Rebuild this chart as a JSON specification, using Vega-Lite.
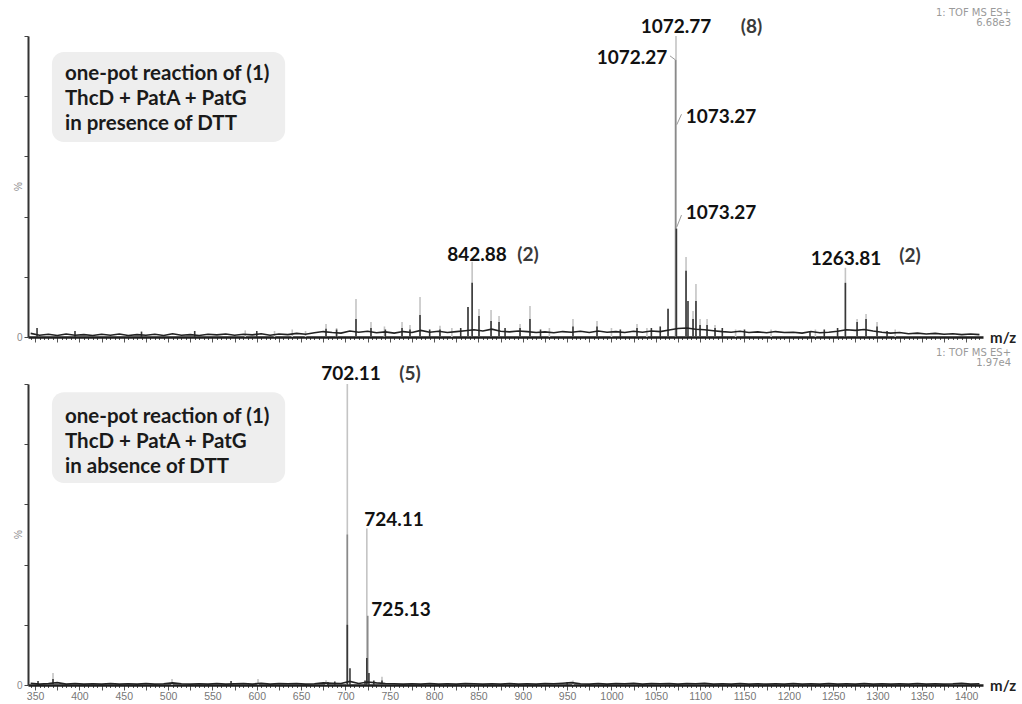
{
  "$schema": "https://vega.github.io/schema/vega-lite/v6.json",
  "background": "white",
  "padding": {"left": 14, "top": 8, "right": 0, "bottom": 0},
  "bounds": "flush",
  "spacing": 47,
  "config": {"view": {"stroke": null}, "font": "Lato"},
  "datasets": {
    "topPeaks": [
      {"mz": 587, "i": 2.2, "tr": "light"}, {"mz": 620, "i": 2, "tr": "light"}, {"mz": 640, "i": 2.5, "tr": "light"}, {"mz": 655, "i": 2, "tr": "light"},
      {"mz": 678.1, "i": 4.3, "tr": "light"}, {"mz": 690, "i": 3, "tr": "light"}, {"mz": 711.9, "i": 12.6, "tr": "light"}, {"mz": 728.8, "i": 5, "tr": "light"},
      {"mz": 744, "i": 3.5, "tr": "light"}, {"mz": 763.8, "i": 5, "tr": "light"}, {"mz": 772.8, "i": 4, "tr": "light"}, {"mz": 784.1, "i": 13.3, "tr": "light"},
      {"mz": 806.6, "i": 3.7, "tr": "light"}, {"mz": 820, "i": 3, "tr": "light"}, {"mz": 838.2, "i": 10, "tr": "light"}, {"mz": 842.88, "i": 25, "tr": "light"},
      {"mz": 850.6, "i": 9.3, "tr": "light"}, {"mz": 864.2, "i": 9, "tr": "light"}, {"mz": 873.2, "i": 7, "tr": "light"}, {"mz": 896.9, "i": 4.3, "tr": "light"},
      {"mz": 908.1, "i": 10.3, "tr": "light"}, {"mz": 930, "i": 3, "tr": "light"}, {"mz": 956.6, "i": 6, "tr": "light"}, {"mz": 983.7, "i": 5.3, "tr": "light"},
      {"mz": 1000, "i": 3, "tr": "light"}, {"mz": 1028.8, "i": 4.3, "tr": "light"}, {"mz": 1040, "i": 3, "tr": "light"}, {"mz": 1063.8, "i": 9.6, "tr": "light"},
      {"mz": 1072.77, "i": 100, "tr": "light"}, {"mz": 1084.1, "i": 26.6, "tr": "light"}, {"mz": 1092, "i": 8.6, "tr": "light"}, {"mz": 1095.3, "i": 17.6, "tr": "light"},
      {"mz": 1099.9, "i": 6, "tr": "light"}, {"mz": 1107.8, "i": 6, "tr": "light"}, {"mz": 1116.8, "i": 4, "tr": "light"}, {"mz": 1140, "i": 2.5, "tr": "light"},
      {"mz": 1180, "i": 2.5, "tr": "light"}, {"mz": 1230, "i": 2.5, "tr": "light"}, {"mz": 1263.81, "i": 23, "tr": "light"}, {"mz": 1277, "i": 6, "tr": "light"},
      {"mz": 1287.1, "i": 7.6, "tr": "light"}, {"mz": 1299.5, "i": 5, "tr": "light"}, {"mz": 1320, "i": 2.5, "tr": "light"},
      {"mz": 1072.27, "i": 92, "tr": "mid"},
      {"mz": 352.2, "i": 3, "tr": "dark"}, {"mz": 395, "i": 2, "tr": "dark"}, {"mz": 470, "i": 1.8, "tr": "dark"}, {"mz": 530, "i": 2, "tr": "dark"},
      {"mz": 600, "i": 2, "tr": "dark"}, {"mz": 678.1, "i": 2.7, "tr": "dark"}, {"mz": 690, "i": 2.5, "tr": "dark"}, {"mz": 711.9, "i": 6, "tr": "dark"},
      {"mz": 728.8, "i": 3, "tr": "dark"}, {"mz": 745, "i": 2.5, "tr": "dark"}, {"mz": 763.8, "i": 3, "tr": "dark"}, {"mz": 772.8, "i": 2.5, "tr": "dark"},
      {"mz": 784.1, "i": 7.3, "tr": "dark"}, {"mz": 795, "i": 2.5, "tr": "dark"}, {"mz": 806.6, "i": 2.5, "tr": "dark"}, {"mz": 830, "i": 3, "tr": "dark"},
      {"mz": 838.2, "i": 10, "tr": "dark"}, {"mz": 842.88, "i": 18, "tr": "dark"}, {"mz": 850.6, "i": 7, "tr": "dark"}, {"mz": 864.2, "i": 5.3, "tr": "dark"},
      {"mz": 873.2, "i": 5, "tr": "dark"}, {"mz": 880, "i": 3, "tr": "dark"}, {"mz": 896.9, "i": 3, "tr": "dark"}, {"mz": 908.1, "i": 6, "tr": "dark"},
      {"mz": 920, "i": 2.5, "tr": "dark"}, {"mz": 956.6, "i": 3.5, "tr": "dark"}, {"mz": 983.7, "i": 3.5, "tr": "dark"}, {"mz": 1010, "i": 2.5, "tr": "dark"},
      {"mz": 1028.8, "i": 3, "tr": "dark"}, {"mz": 1045, "i": 3, "tr": "dark"}, {"mz": 1055, "i": 3.5, "tr": "dark"}, {"mz": 1063.8, "i": 9.3, "tr": "dark"},
      {"mz": 1073.27, "i": 36, "tr": "dark"}, {"mz": 1084.1, "i": 22, "tr": "dark"}, {"mz": 1086.3, "i": 12, "tr": "dark"}, {"mz": 1092, "i": 6, "tr": "dark"},
      {"mz": 1095.3, "i": 12, "tr": "dark"}, {"mz": 1099.9, "i": 4, "tr": "dark"}, {"mz": 1107.8, "i": 4, "tr": "dark"}, {"mz": 1116.8, "i": 3, "tr": "dark"},
      {"mz": 1125, "i": 3, "tr": "dark"}, {"mz": 1150, "i": 2.5, "tr": "dark"}, {"mz": 1223.9, "i": 2, "tr": "dark"}, {"mz": 1240, "i": 2.5, "tr": "dark"},
      {"mz": 1255, "i": 3, "tr": "dark"}, {"mz": 1263.81, "i": 18, "tr": "dark"}, {"mz": 1277, "i": 5, "tr": "dark"}, {"mz": 1287.1, "i": 6, "tr": "dark"},
      {"mz": 1299.5, "i": 3.5, "tr": "dark"}, {"mz": 1310.8, "i": 2, "tr": "dark"}
    ],
    "bottomPeaks": [
      {"mz": 370.2, "i": 4, "tr": "light"}, {"mz": 504.4, "i": 2, "tr": "light"}, {"mz": 601.4, "i": 2, "tr": "light"}, {"mz": 678.1, "i": 1.6, "tr": "light"},
      {"mz": 702.11, "i": 100, "tr": "light"}, {"mz": 724.11, "i": 52, "tr": "light"}, {"mz": 741.2, "i": 2.7, "tr": "light"}, {"mz": 956.6, "i": 1.5, "tr": "light"},
      {"mz": 702.11, "i": 50, "tr": "mid"}, {"mz": 725.13, "i": 23, "tr": "mid"},
      {"mz": 353.3, "i": 1.3, "tr": "dark"}, {"mz": 370.2, "i": 2, "tr": "dark"}, {"mz": 571, "i": 1.3, "tr": "dark"}, {"mz": 680.3, "i": 1, "tr": "dark"},
      {"mz": 688, "i": 1.2, "tr": "dark"}, {"mz": 702.11, "i": 20, "tr": "dark"}, {"mz": 705.1, "i": 5.6, "tr": "dark"}, {"mz": 722.1, "i": 1.5, "tr": "dark"},
      {"mz": 724.11, "i": 9, "tr": "dark"}, {"mz": 726.5, "i": 4, "tr": "dark"}, {"mz": 732, "i": 1.5, "tr": "dark"}, {"mz": 741.2, "i": 1.5, "tr": "dark"},
      {"mz": 950, "i": 1, "tr": "dark"}
    ],
    "topNoise": [
      {"mz": 345, "i": 1.2}, {"mz": 355, "i": 0.6}, {"mz": 365, "i": 0.9}, {"mz": 375, "i": 0.5}, {"mz": 385, "i": 1.0}, {"mz": 395, "i": 0.6},
      {"mz": 405, "i": 0.8}, {"mz": 415, "i": 0.5}, {"mz": 425, "i": 0.9}, {"mz": 435, "i": 0.6}, {"mz": 445, "i": 1.0}, {"mz": 455, "i": 0.5},
      {"mz": 465, "i": 0.8}, {"mz": 475, "i": 0.6}, {"mz": 485, "i": 0.9}, {"mz": 495, "i": 0.5}, {"mz": 505, "i": 1.1}, {"mz": 515, "i": 0.6},
      {"mz": 525, "i": 0.8}, {"mz": 535, "i": 0.5}, {"mz": 545, "i": 0.9}, {"mz": 555, "i": 0.7}, {"mz": 565, "i": 1.0}, {"mz": 575, "i": 0.6},
      {"mz": 585, "i": 0.9}, {"mz": 595, "i": 0.7}, {"mz": 605, "i": 1.1}, {"mz": 615, "i": 0.6}, {"mz": 625, "i": 1.0}, {"mz": 635, "i": 0.8},
      {"mz": 645, "i": 1.2}, {"mz": 655, "i": 0.9}, {"mz": 665, "i": 1.4}, {"mz": 675, "i": 1.8}, {"mz": 685, "i": 1.5}, {"mz": 695, "i": 1.3},
      {"mz": 705, "i": 2.0}, {"mz": 715, "i": 1.6}, {"mz": 725, "i": 1.9}, {"mz": 735, "i": 1.4}, {"mz": 745, "i": 1.7}, {"mz": 755, "i": 1.3},
      {"mz": 765, "i": 1.8}, {"mz": 775, "i": 1.5}, {"mz": 785, "i": 2.2}, {"mz": 795, "i": 1.6}, {"mz": 805, "i": 1.9}, {"mz": 815, "i": 1.5},
      {"mz": 825, "i": 1.8}, {"mz": 835, "i": 2.1}, {"mz": 845, "i": 2.4}, {"mz": 855, "i": 2.0}, {"mz": 865, "i": 2.6}, {"mz": 875, "i": 1.9},
      {"mz": 885, "i": 1.7}, {"mz": 895, "i": 2.0}, {"mz": 905, "i": 1.8}, {"mz": 915, "i": 1.5}, {"mz": 925, "i": 1.7}, {"mz": 935, "i": 1.4},
      {"mz": 945, "i": 1.8}, {"mz": 955, "i": 1.6}, {"mz": 965, "i": 1.9}, {"mz": 975, "i": 1.5}, {"mz": 985, "i": 2.0}, {"mz": 995, "i": 1.6},
      {"mz": 1005, "i": 1.8}, {"mz": 1015, "i": 1.5}, {"mz": 1025, "i": 1.9}, {"mz": 1035, "i": 1.6}, {"mz": 1045, "i": 2.0}, {"mz": 1055, "i": 1.8},
      {"mz": 1065, "i": 2.3}, {"mz": 1075, "i": 2.8}, {"mz": 1085, "i": 3.0}, {"mz": 1095, "i": 2.6}, {"mz": 1105, "i": 2.4}, {"mz": 1115, "i": 2.1},
      {"mz": 1125, "i": 1.8}, {"mz": 1135, "i": 1.6}, {"mz": 1145, "i": 1.9}, {"mz": 1155, "i": 1.5}, {"mz": 1165, "i": 1.7}, {"mz": 1175, "i": 1.4},
      {"mz": 1185, "i": 1.8}, {"mz": 1195, "i": 1.5}, {"mz": 1205, "i": 1.6}, {"mz": 1215, "i": 1.3}, {"mz": 1225, "i": 1.8}, {"mz": 1235, "i": 1.4},
      {"mz": 1245, "i": 1.6}, {"mz": 1255, "i": 1.9}, {"mz": 1265, "i": 2.4}, {"mz": 1275, "i": 2.2}, {"mz": 1285, "i": 2.5}, {"mz": 1295, "i": 2.0},
      {"mz": 1305, "i": 1.6}, {"mz": 1315, "i": 1.3}, {"mz": 1325, "i": 1.5}, {"mz": 1335, "i": 1.1}, {"mz": 1345, "i": 1.3}, {"mz": 1355, "i": 1.0},
      {"mz": 1365, "i": 1.2}, {"mz": 1375, "i": 0.9}, {"mz": 1385, "i": 1.1}, {"mz": 1395, "i": 0.8}, {"mz": 1405, "i": 1.0}, {"mz": 1415, "i": 0.8}
    ],
    "bottomNoise": [
      {"mz": 345, "i": 0.6}, {"mz": 355, "i": 0.3}, {"mz": 365, "i": 0.5}, {"mz": 375, "i": 0.8}, {"mz": 385, "i": 0.3}, {"mz": 395, "i": 0.5},
      {"mz": 405, "i": 0.3}, {"mz": 415, "i": 0.4}, {"mz": 425, "i": 0.3}, {"mz": 435, "i": 0.5}, {"mz": 445, "i": 0.3}, {"mz": 455, "i": 0.4},
      {"mz": 465, "i": 0.3}, {"mz": 475, "i": 0.5}, {"mz": 485, "i": 0.3}, {"mz": 495, "i": 0.4}, {"mz": 505, "i": 0.7}, {"mz": 515, "i": 0.4},
      {"mz": 525, "i": 0.3}, {"mz": 535, "i": 0.4}, {"mz": 545, "i": 0.3}, {"mz": 555, "i": 0.5}, {"mz": 565, "i": 0.3}, {"mz": 575, "i": 0.4},
      {"mz": 585, "i": 0.5}, {"mz": 595, "i": 0.3}, {"mz": 605, "i": 0.6}, {"mz": 615, "i": 0.3}, {"mz": 625, "i": 0.5}, {"mz": 635, "i": 0.4},
      {"mz": 645, "i": 0.5}, {"mz": 655, "i": 0.3}, {"mz": 665, "i": 0.4}, {"mz": 675, "i": 0.7}, {"mz": 685, "i": 0.6}, {"mz": 695, "i": 0.5},
      {"mz": 705, "i": 1.2}, {"mz": 715, "i": 0.5}, {"mz": 725, "i": 1.0}, {"mz": 735, "i": 0.7}, {"mz": 745, "i": 0.5}, {"mz": 755, "i": 0.4},
      {"mz": 765, "i": 0.3}, {"mz": 775, "i": 0.4}, {"mz": 785, "i": 0.3}, {"mz": 795, "i": 0.5}, {"mz": 805, "i": 0.3}, {"mz": 815, "i": 0.4},
      {"mz": 825, "i": 0.3}, {"mz": 835, "i": 0.5}, {"mz": 845, "i": 0.4}, {"mz": 855, "i": 0.3}, {"mz": 865, "i": 0.4}, {"mz": 875, "i": 0.3},
      {"mz": 885, "i": 0.5}, {"mz": 895, "i": 0.3}, {"mz": 905, "i": 0.4}, {"mz": 915, "i": 0.3}, {"mz": 925, "i": 0.5}, {"mz": 935, "i": 0.4},
      {"mz": 945, "i": 0.6}, {"mz": 955, "i": 0.8}, {"mz": 965, "i": 0.4}, {"mz": 975, "i": 0.3}, {"mz": 985, "i": 0.5}, {"mz": 995, "i": 0.3},
      {"mz": 1005, "i": 0.5}, {"mz": 1015, "i": 0.4}, {"mz": 1025, "i": 0.6}, {"mz": 1035, "i": 0.3}, {"mz": 1045, "i": 0.5}, {"mz": 1055, "i": 0.4},
      {"mz": 1065, "i": 0.5}, {"mz": 1075, "i": 0.3}, {"mz": 1085, "i": 0.5}, {"mz": 1095, "i": 0.4}, {"mz": 1105, "i": 0.6}, {"mz": 1115, "i": 0.3},
      {"mz": 1125, "i": 0.4}, {"mz": 1135, "i": 0.3}, {"mz": 1145, "i": 0.5}, {"mz": 1155, "i": 0.3}, {"mz": 1165, "i": 0.4}, {"mz": 1175, "i": 0.3},
      {"mz": 1185, "i": 0.4}, {"mz": 1195, "i": 0.3}, {"mz": 1205, "i": 0.5}, {"mz": 1215, "i": 0.3}, {"mz": 1225, "i": 0.4}, {"mz": 1235, "i": 0.3},
      {"mz": 1245, "i": 0.5}, {"mz": 1255, "i": 0.3}, {"mz": 1265, "i": 0.4}, {"mz": 1275, "i": 0.3}, {"mz": 1285, "i": 0.5}, {"mz": 1295, "i": 0.3},
      {"mz": 1305, "i": 0.4}, {"mz": 1315, "i": 0.3}, {"mz": 1325, "i": 0.4}, {"mz": 1335, "i": 0.3}, {"mz": 1345, "i": 0.5}, {"mz": 1355, "i": 0.3},
      {"mz": 1365, "i": 0.4}, {"mz": 1375, "i": 0.3}, {"mz": 1385, "i": 0.4}, {"mz": 1395, "i": 0.6}, {"mz": 1405, "i": 0.3}, {"mz": 1415, "i": 0.4}
    ]
  },
  "vconcat": [
    {
      "width": 955,
      "height": 301,
      "layer": [
        {
          "data": {"values": [{"x1": 369, "x2": 632, "y1": 64.8, "y2": 94.7}]},
          "mark": {"type": "rect", "fill": "#eeeeee", "cornerRadius": 12},
          "encoding": {
            "x": {"field": "x1", "type": "quantitative", "title": null, "scale": {"domain": [342, 1419], "nice": false, "zero": false},
              "axis": {"title": null, "grid": false, "tickCount": 220, "format": "d", "labels": false, "tickColor": "#555", "tickWidth": 1,
                "tickSize": {"condition": {"test": "datum.value % 25 === 0", "value": 5}, "value": 2.5},
                "domainColor": "#1e1e1e", "domainWidth": 2.5}},
            "x2": {"field": "x2"},
            "y": {"field": "y1", "type": "quantitative", "title": null, "scale": {"domain": [0, 100], "nice": false, "zero": false},
              "axis": {"title": null, "grid": false, "values": [0, 10, 20, 30, 40, 50, 60, 70, 80, 90, 100], "labelOverlap": false,
                "labelExpr": "datum.value === 0 ? '0' : ''", "labelFont": "Liberation Sans", "labelFontSize": 10,
                "labelColor": "#8a8a8a", "labelPadding": 2, "tickSize": 4, "tickColor": "#444", "domainColor": "#333", "domainWidth": 2}},
            "y2": {"field": "y2"}
          }
        },
        {
          "data": {"values": [{"mz": 331.9, "i": 50, "t": "%"}]},
          "mark": {"type": "text", "align": "center", "baseline": "middle", "angle": 270, "font": "Liberation Sans", "fontSize": 10, "color": "#8a8a8a"},
          "encoding": {
            "x": {"field": "mz", "type": "quantitative", "title": null},
            "y": {"field": "i", "type": "quantitative", "title": null},
            "text": {"field": "t"}
          }
        },
        {
          "data": {"values": [
            {"mz": 383.7, "i": 87.5, "t": "one-pot reaction of (1)"},
            {"mz": 383.7, "i": 79.2, "t": "ThcD + PatA + PatG"},
            {"mz": 383.7, "i": 70.9, "t": "in presence of DTT"}
          ]},
          "mark": {"type": "text", "align": "left", "baseline": "middle", "font": "Lato", "fontWeight": "bold", "fontSize": 20.5, "color": "#1a1a1a"},
          "encoding": {
            "x": {"field": "mz", "type": "quantitative", "title": null},
            "y": {"field": "i", "type": "quantitative", "title": null},
            "text": {"field": "t"}
          }
        },
        {
          "data": {"name": "topPeaks"},
          "mark": {"type": "rule", "strokeWidth": 1.6},
          "encoding": {
            "x": {"field": "mz", "type": "quantitative", "title": null},
            "y": {"field": "i", "type": "quantitative", "title": null},
            "y2": {"datum": 0},
            "color": {"field": "tr", "type": "nominal", "scale": {"domain": ["light", "mid", "dark"], "range": ["#c4c4c4", "#8a8a8a", "#383838"]}, "legend": null}
          }
        },
        {
          "data": {"name": "topNoise"},
          "mark": {"type": "line", "color": "#222222", "strokeWidth": 1.6},
          "encoding": {
            "x": {"field": "mz", "type": "quantitative", "title": null},
            "y": {"field": "i", "type": "quantitative", "title": null}
          }
        },
        {
          "data": {"values": [
            {"mz": 1066, "mz2": 1072.4, "i": 93.4, "i2": 92},
            {"mz": 1073.6, "mz2": 1079, "i": 70.5, "i2": 74},
            {"mz": 1073.6, "mz2": 1079, "i": 36.5, "i2": 40.5}
          ]},
          "mark": {"type": "rule", "color": "#9a9a9a", "strokeWidth": 1},
          "encoding": {
            "x": {"field": "mz", "type": "quantitative", "title": null},
            "x2": {"field": "mz2"},
            "y": {"field": "i", "type": "quantitative", "title": null},
            "y2": {"field": "i2"}
          }
        },
        {
          "data": {"values": [
            {"mz": 1072.8, "i": 103.1, "t": "1072.77"},
            {"mz": 1023.2, "i": 92.7, "t": "1072.27"},
            {"mz": 1123.5, "i": 73.1, "t": "1073.27"},
            {"mz": 1123.5, "i": 41.2, "t": "1073.27"},
            {"mz": 848.4, "i": 27.4, "t": "842.88"},
            {"mz": 1264.5, "i": 25.8, "t": "1263.81"}
          ]},
          "mark": {"type": "text", "align": "center", "baseline": "middle", "font": "Lato", "fontWeight": "bold", "fontSize": 19, "color": "#111111"},
          "encoding": {
            "x": {"field": "mz", "type": "quantitative", "title": null},
            "y": {"field": "i", "type": "quantitative", "title": null},
            "text": {"field": "t"}
          }
        },
        {
          "data": {"values": [
            {"mz": 1158, "i": 103.1, "t": "(8)"},
            {"mz": 905.9, "i": 27.4, "t": "(2)"},
            {"mz": 1336.7, "i": 26.8, "t": "(2)"}
          ]},
          "mark": {"type": "text", "align": "center", "baseline": "middle", "font": "Lato", "fontWeight": "bold", "fontSize": 19, "color": "#3a3a3a"},
          "encoding": {
            "x": {"field": "mz", "type": "quantitative", "title": null},
            "y": {"field": "i", "type": "quantitative", "title": null},
            "text": {"field": "t"}
          }
        },
        {
          "data": {"values": [
            {"mz": 1450.6, "i": 107.6, "t": "1: TOF MS ES+"},
            {"mz": 1450.6, "i": 104.3, "t": "6.68e3"}
          ]},
          "mark": {"type": "text", "align": "right", "baseline": "middle", "font": "DejaVu Sans", "fontSize": 10, "color": "#9a9a9a"},
          "encoding": {
            "x": {"field": "mz", "type": "quantitative", "title": null},
            "y": {"field": "i", "type": "quantitative", "title": null},
            "text": {"field": "t"}
          }
        },
        {
          "data": {"values": [{"mz": 1427, "i": -0.3, "t": "m/z"}]},
          "mark": {"type": "text", "align": "left", "baseline": "middle", "font": "Lato", "fontWeight": "bold", "fontSize": 15, "color": "#222222"},
          "encoding": {
            "x": {"field": "mz", "type": "quantitative", "title": null},
            "y": {"field": "i", "type": "quantitative", "title": null},
            "text": {"field": "t"}
          }
        }
      ]
    },
    {
      "width": 955,
      "height": 301,
      "layer": [
        {
          "data": {"values": [{"x1": 369, "x2": 632, "y1": 67.1, "y2": 97.3}]},
          "mark": {"type": "rect", "fill": "#eeeeee", "cornerRadius": 12},
          "encoding": {
            "x": {"field": "x1", "type": "quantitative", "title": null, "scale": {"domain": [342, 1419], "nice": false, "zero": false},
              "axis": {"title": null, "grid": false, "tickCount": 220, "format": "d", "labelOverlap": false, "labelFlush": false, "labelBound": false,
                "labelExpr": "datum.value % 50 === 0 ? datum.label : ''", "labelFont": "Liberation Sans", "labelFontSize": 10.5, "labelColor": "#777777", "labelPadding": 1,
                "tickColor": "#555", "tickWidth": 1,
                "tickSize": {"condition": {"test": "datum.value % 25 === 0", "value": 5}, "value": 2.5},
                "domainColor": "#1e1e1e", "domainWidth": 2.5}},
            "x2": {"field": "x2"},
            "y": {"field": "y1", "type": "quantitative", "title": null, "scale": {"domain": [0, 100], "nice": false, "zero": false},
              "axis": {"title": null, "grid": false, "values": [0, 10, 20, 30, 40, 50, 60, 70, 80, 90, 100], "labelOverlap": false,
                "labelExpr": "datum.value === 0 ? '0' : ''", "labelFont": "Liberation Sans", "labelFontSize": 10,
                "labelColor": "#8a8a8a", "labelPadding": 2, "tickSize": 4, "tickColor": "#444", "domainColor": "#333", "domainWidth": 2}},
            "y2": {"field": "y2"}
          }
        },
        {
          "data": {"values": [{"mz": 331.9, "i": 50, "t": "%"}]},
          "mark": {"type": "text", "align": "center", "baseline": "middle", "angle": 270, "font": "Liberation Sans", "fontSize": 10, "color": "#8a8a8a"},
          "encoding": {
            "x": {"field": "mz", "type": "quantitative", "title": null},
            "y": {"field": "i", "type": "quantitative", "title": null},
            "text": {"field": "t"}
          }
        },
        {
          "data": {"values": [
            {"mz": 383.7, "i": 89.1, "t": "one-pot reaction of (1)"},
            {"mz": 383.7, "i": 80.8, "t": "ThcD + PatA + PatG"},
            {"mz": 383.7, "i": 72.5, "t": "in absence of DTT"}
          ]},
          "mark": {"type": "text", "align": "left", "baseline": "middle", "font": "Lato", "fontWeight": "bold", "fontSize": 20.5, "color": "#1a1a1a"},
          "encoding": {
            "x": {"field": "mz", "type": "quantitative", "title": null},
            "y": {"field": "i", "type": "quantitative", "title": null},
            "text": {"field": "t"}
          }
        },
        {
          "data": {"name": "bottomPeaks"},
          "mark": {"type": "rule", "strokeWidth": 1.6},
          "encoding": {
            "x": {"field": "mz", "type": "quantitative", "title": null},
            "y": {"field": "i", "type": "quantitative", "title": null},
            "y2": {"datum": 0},
            "color": {"field": "tr", "type": "nominal", "scale": {"domain": ["light", "mid", "dark"], "range": ["#c4c4c4", "#8a8a8a", "#383838"]}, "legend": null}
          }
        },
        {
          "data": {"name": "bottomNoise"},
          "mark": {"type": "line", "color": "#222222", "strokeWidth": 1.6},
          "encoding": {
            "x": {"field": "mz", "type": "quantitative", "title": null},
            "y": {"field": "i", "type": "quantitative", "title": null}
          }
        },
        {
          "data": {"values": [
            {"mz": 706.3, "i": 103.2, "t": "702.11"},
            {"mz": 754.8, "i": 54.8, "t": "724.11"},
            {"mz": 762.7, "i": 24.9, "t": "725.13"}
          ]},
          "mark": {"type": "text", "align": "center", "baseline": "middle", "font": "Lato", "fontWeight": "bold", "fontSize": 19, "color": "#111111"},
          "encoding": {
            "x": {"field": "mz", "type": "quantitative", "title": null},
            "y": {"field": "i", "type": "quantitative", "title": null},
            "text": {"field": "t"}
          }
        },
        {
          "data": {"values": [{"mz": 772.8, "i": 103.2, "t": "(5)"}]},
          "mark": {"type": "text", "align": "center", "baseline": "middle", "font": "Lato", "fontWeight": "bold", "fontSize": 19, "color": "#3a3a3a"},
          "encoding": {
            "x": {"field": "mz", "type": "quantitative", "title": null},
            "y": {"field": "i", "type": "quantitative", "title": null},
            "text": {"field": "t"}
          }
        },
        {
          "data": {"values": [
            {"mz": 1450.6, "i": 110.2, "t": "1: TOF MS ES+"},
            {"mz": 1450.6, "i": 106.9, "t": "1.97e4"}
          ]},
          "mark": {"type": "text", "align": "right", "baseline": "middle", "font": "DejaVu Sans", "fontSize": 10, "color": "#9a9a9a"},
          "encoding": {
            "x": {"field": "mz", "type": "quantitative", "title": null},
            "y": {"field": "i", "type": "quantitative", "title": null},
            "text": {"field": "t"}
          }
        },
        {
          "data": {"values": [{"mz": 1427, "i": -0.3, "t": "m/z"}]},
          "mark": {"type": "text", "align": "left", "baseline": "middle", "font": "Lato", "fontWeight": "bold", "fontSize": 15, "color": "#222222"},
          "encoding": {
            "x": {"field": "mz", "type": "quantitative", "title": null},
            "y": {"field": "i", "type": "quantitative", "title": null},
            "text": {"field": "t"}
          }
        }
      ]
    }
  ]
}
